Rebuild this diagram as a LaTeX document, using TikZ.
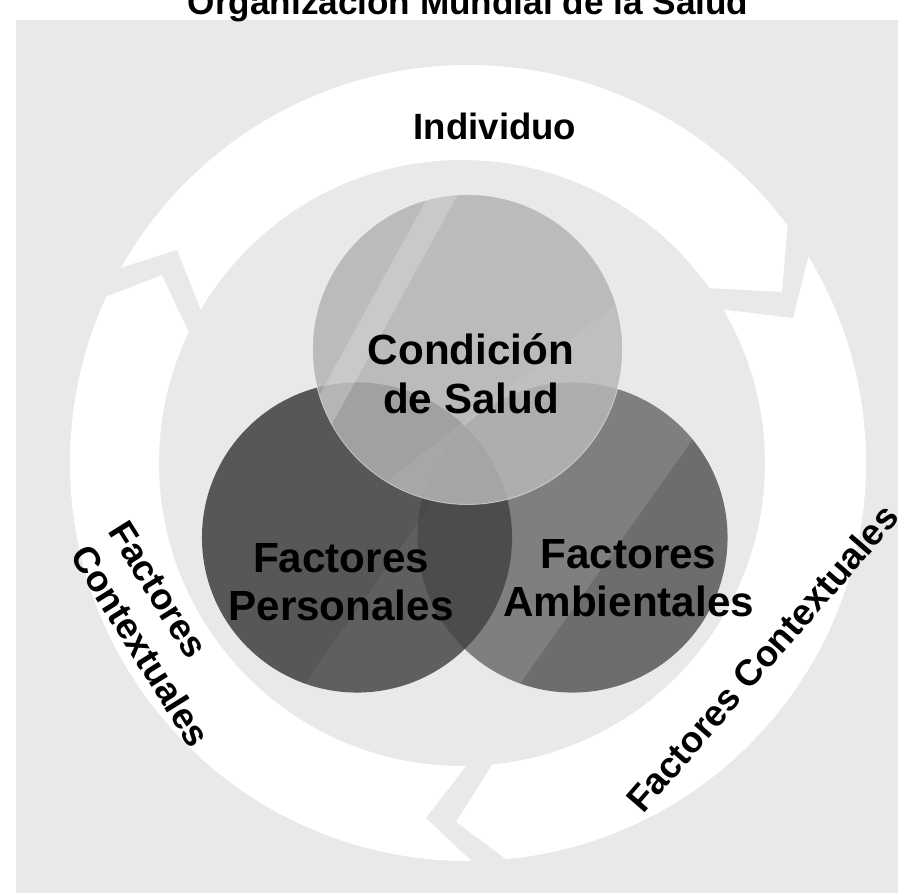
\documentclass[tikz,border=0pt]{standalone}
\usepackage{fontspec}
\setmainfont{Liberation Sans}
\definecolor{bggray}{HTML}{E9E9E9}
\definecolor{darkdisc}{HTML}{575757}
\definecolor{middisc}{HTML}{424242}
\definecolor{lightdisc}{HTML}{B2B2B2}
\begin{document}
\begin{tikzpicture}
	[x=0.025cm,y=-0.025cm,
	every node/.style={inner sep=0pt,outer sep=0pt},
	disc/.style={shape=circle,minimum size=7.75cm},
	bigtext/.style={font=\bfseries\fontsize{30}{34.5}\selectfont,align=center},
	ringtext/.style={font=\bfseries\fontsize{26}{32}\selectfont}]
	\def\rr{155}
	\useasboundingbox (0,0) rectangle (898,893);
	\fill[white] (0,0) rectangle (898,893);
	\fill[bggray] (16,20) rectangle (898,893);
	\node[font=\bfseries\fontsize{25}{30}\selectfont,anchor=base] (title) at (468,15) {Organización Mundial de la Salud};
	% ring of three arrows
	\fill[white,even odd rule] (468,463) circle[radius=398] (462,463) circle[radius=303];
	\fill[bggray] (86,279) -- (177,250) -- (217,351) -- (207,371) -- (162,275) -- (71,310) -- cycle;
	\fill[bggray] (790,198) -- (782,292) -- (667,286) -- (687,305) -- (793,318) -- (815,230) -- cycle;
	\fill[bggray] (492,733) -- (426,818) -- (496,884) -- (531,878) -- (456,822) -- (515,728) -- cycle;
	% discs
	\node[disc,fill=darkdisc] (fp) at (357,537.5) {};
	\begin{scope}
		\clip (fp.center) circle[radius=\rr];
		\fill[white,opacity=.05,shift={(fp.center)},rotate=-35.2] (41.6,-200) rectangle (300,200);
	\end{scope}
	\node[disc,fill=middisc,fill opacity=.63] (fa) at (572.5,537.5) {};
	\begin{scope}
		\clip (fa.center) circle[radius=\rr];
		\fill[black,opacity=.14,shift={(fa.center)},rotate=-35.2] (41.6,-200) rectangle (300,200);
	\end{scope}
	\node[disc,fill=lightdisc,fill opacity=.82,draw=white,draw opacity=.5,line width=.6pt] (cs) at (467.5,349.5) {};
	\begin{scope}
		\clip (cs.center) circle[radius=\rr];
		\fill[white,opacity=.22,shift={(cs.center)},rotate=-28.7] (-108,-200) rectangle (-83,200);
		\fill[white,opacity=.07,shift={(cs.center)},rotate=-52.3] (55,-200) rectangle (300,200);
	\end{scope}
	% labels
	\node[bigtext] (csl) at (471,373.5) {Condición\\de Salud};
	\node[bigtext] (fpl) at (341,582) {Factores\\Personales};
	\node[bigtext] (fal) at (628.5,578) {Factores\\Ambientales};
	\node[ringtext,anchor=base] (ind) at (495,139) {Individuo};
	\node[ringtext,align=left,rotate=-58] (fcl) at (159.5,634) {Factores\\Contextuales};
	\node[ringtext,rotate=49] (fcr) at (762,658) {Factores Contextuales};
\end{tikzpicture}
\end{document}
